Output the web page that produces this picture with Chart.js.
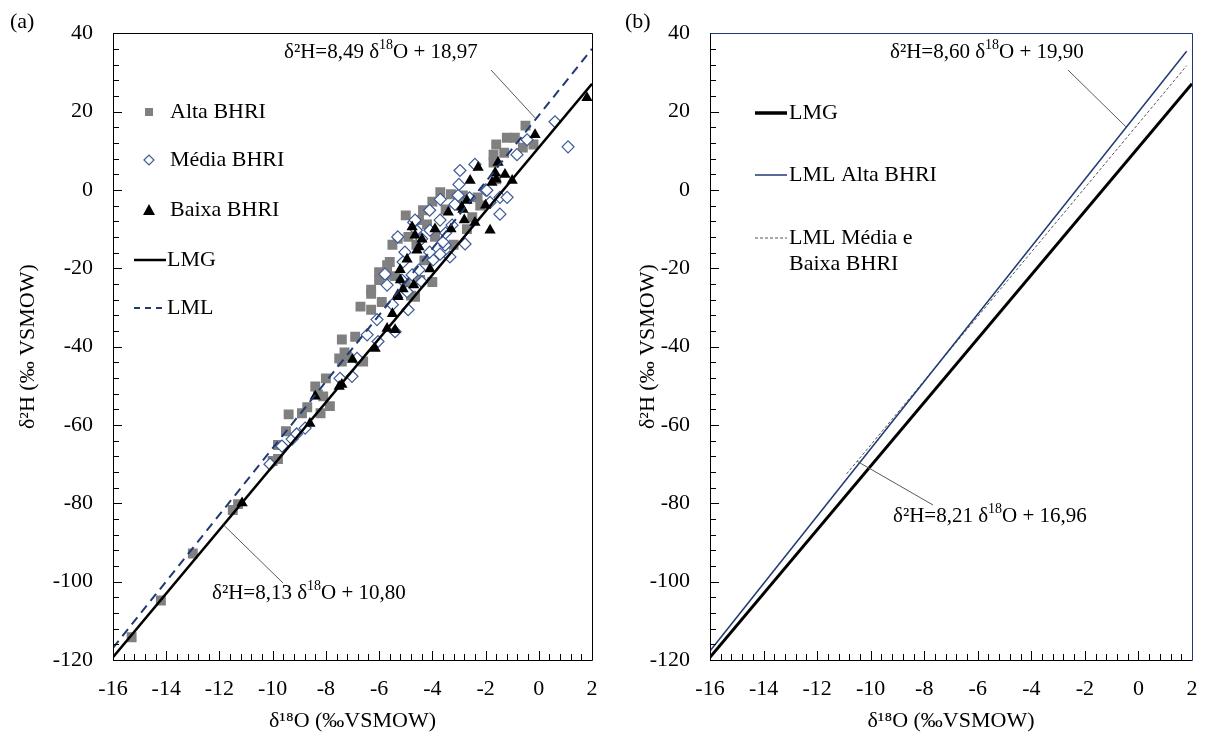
<!DOCTYPE html>
<html>
<head>
<meta charset="utf-8">
<script src="https://cdn.jsdelivr.net/npm/chart.js@4.4.0/dist/chart.umd.min.js"></script>
<style>
  html, body { margin: 0; padding: 0; background: #fff; }
  #wrap { position: relative; width: 1214px; height: 736px; }
  .panel { position: absolute; top: 0; width: 607px; height: 736px; }
</style>
</head>
<body>
<div id="wrap">
  <div class="panel" style="left:0"><canvas id="chartA" width="607" height="736"></canvas></div>
  <div class="panel" style="left:607px"><canvas id="chartB" width="607" height="736"></canvas></div>
</div>
<script>
// axis ticks
const xTicks = [-16, -14, -12, -10, -8, -6, -4, -2, 0, 2];
const yTicks = [-120, -100, -80, -60, -40, -20, 0, 20, 40];

// (a) samples, [δ18O, δ2H]
const altaBHRI = [
  [-15.3, -114.2], [-14.2, -104.8], [-13.0, -92.8], [-11.5, -81.7], [-11.3, -80.2],
  [-10.0, -69.2], [-9.8, -65.1], [-9.8, -68.7], [-9.5, -61.6], [-9.4, -57.3],
  [-8.9, -57.0], [-8.7, -55.5], [-8.2, -57.0], [-7.85, -55.2], [-8.4, -50.2],
  [-8.3, -52.2], [-8.1, -52.7], [-8.0, -48.1], [-7.5, -43.0], [-7.4, -43.8],
  [-7.2, -42.5], [-6.6, -43.8], [-7.3, -41.5], [-7.4, -38.2], [-6.9, -37.5],
  [-6.7, -29.8], [-6.3, -30.6], [-6.3, -26.5], [-5.9, -28.6], [-6.3, -25.5],
  [-6.0, -23.0], [-5.7, -21.7], [-5.7, -19.2], [-5.6, -18.4], [-5.4, -22.0],
  [-5.0, -24.0], [-4.8, -27.0], [-4.65, -27.3], [-4.46, -23.0], [-6.0, -21.0],
  [-5.5, -14.0], [-5.3, -12.5], [-4.9, -12.0], [-4.6, -14.0], [-4.5, -7.7],
  [-4.2, -8.8], [-4.35, -5.2], [-5.0, -6.5], [-4.0, -3.0], [-3.7, -0.6],
  [-3.3, -1.1], [-3.5, -5.0], [-3.0, -3.0], [-2.85, -1.4], [-3.9, -12.0],
  [-3.2, -14.0], [-4.3, -18.0], [-4.0, -23.5], [-2.7, -10.0], [-2.5, -7.0],
  [-2.3, -1.9], [-2.2, -4.0], [-1.6, 2.7], [-1.7, 7.0], [-1.7, 9.0],
  [-1.3, 9.5], [-1.6, 11.6], [-1.2, 13.3], [-0.9, 13.3], [-0.6, 10.8],
  [-0.5, 16.4], [-0.2, 11.6]
];
const mediaBHRI = [
  [-10.1, -70.0], [-9.65, -65.4], [-9.27, -63.6], [-9.1, -62.3], [-8.78, -60.8],
  [-7.47, -48.1], [-7.02, -47.6], [-6.83, -43.0], [-6.45, -37.0], [-6.04, -38.7],
  [-6.08, -33.1], [-5.4, -36.2], [-4.91, -30.6], [-5.5, -29.3], [-4.95, -26.0],
  [-5.14, -23.0], [-5.7, -24.3], [-5.78, -21.5], [-4.76, -21.7], [-4.39, -23.5],
  [-5.03, -15.9], [-5.1, -18.4], [-4.5, -20.4], [-3.97, -17.9], [-3.71, -16.4],
  [-3.34, -17.1], [-2.77, -13.8], [-4.1, -15.9], [-3.52, -14.1], [-3.6, -13.3],
  [-4.6, -10.3], [-4.09, -10.3], [-4.7, -8.3], [-4.65, -7.7], [-3.71, -7.7],
  [-3.26, -9.0], [-3.5, -11.0], [-4.4, -12.5], [-5.3, -12.0], [-3.15, -3.7],
  [-4.1, -5.2], [-3.7, -2.4], [-3.03, -1.4], [-3.0, 1.4], [-2.96, 4.95],
  [-2.4, 6.5], [-2.6, -2.0], [-2.0, 0.0], [-1.95, -0.1], [-1.46, -1.9],
  [-1.19, -1.9], [-1.83, -3.2], [-1.46, -6.2], [-0.82, 9.0], [-0.44, 12.8],
  [0.61, 17.4], [1.1, 11.0]
];
const baixaBHRI = [
  [-11.15, -79.9], [-8.6, -59.6], [-8.4, -52.7], [-7.5, -50.2], [-7.4, -49.7],
  [-7.0, -43.3], [-6.15, -40.5], [-5.7, -35.4], [-5.4, -35.7], [-5.5, -31.6],
  [-5.3, -26.8], [-5.29, -27.3], [-5.1, -25.3], [-5.2, -23.0], [-4.7, -24.3],
  [-5.21, -20.4], [-4.95, -17.7], [-4.09, -20.2], [-4.58, -15.4], [-4.5, -14.6],
  [-4.39, -12.6], [-4.65, -11.6], [-4.76, -9.5], [-3.9, -10.0], [-3.3, -10.0],
  [-3.4, -5.7], [-2.9, -4.4], [-2.8, -7.7], [-2.4, -8.3], [-2.85, -5.0],
  [-2.7, -2.7], [-2.0, -3.9], [-2.58, 2.4], [-2.28, 5.7], [-1.6, 2.7],
  [-1.0, 2.4], [-1.64, 4.4], [-1.27, 3.9], [-1.76, 1.9], [-1.53, 7.0],
  [-1.83, -10.3], [-0.14, 14.1], [1.81, 23.5]
];

// fitted lines, end points
const lmgLine = [[-16, -119.3], [2, 27.1]];
const lmlLine = [[-16, -116.9], [2, 36.0]];
const lmlAltaLine = [[-16, -117.7], [1.8, 35.4]];
const lmlMediaBaixaLine = [[-10.9, -72.5], [1.8, 31.7]];

const FONT = '"Liberation Serif", "Times New Roman", serif';
const NAVY = '#1f3a73';
const toXY = arr => arr.map(p => ({ x: p[0], y: p[1] }));

// inward tick marks + frame
const frameTicks = {
  id: 'frameTicks',
  afterDraw(chart, args, o) {
    const { ctx, chartArea: a, scales: { x, y } } = chart;
    ctx.save();
    ctx.lineWidth = 1;
    ctx.strokeStyle = '#000';
    ctx.beginPath();
    const nx = Math.round((x.max - x.min) / 0.4);
    for (let i = 0; i <= nx; i++) {
      const px = Math.round(x.getPixelForValue(x.min + i * 0.4)) + 0.5;
      ctx.moveTo(px, a.bottom);
      ctx.lineTo(px, a.bottom - (i % 5 === 0 ? 9 : 6));
    }
    const ny = Math.round((y.max - y.min) / 4);
    for (let i = 0; i <= ny; i++) {
      const py = Math.round(y.getPixelForValue(y.min + i * 4)) + 0.5;
      ctx.moveTo(a.left, py);
      ctx.lineTo(a.left + (i % 5 === 0 ? 9 : 6), py);
    }
    ctx.stroke();
    const L = Math.round(a.left) + 0.5, R = Math.round(a.right) + 0.5;
    const T = Math.round(a.top) + 0.5, B = Math.round(a.bottom) + 0.5;
    ctx.beginPath();
    ctx.strokeStyle = '#000';
    ctx.moveTo(L, T); ctx.lineTo(L, B); ctx.lineTo(R, B);
    ctx.stroke();
    ctx.beginPath();
    ctx.strokeStyle = o.frameColor || '#000';
    ctx.moveTo(L, T); ctx.lineTo(R, T); ctx.lineTo(R, B);
    ctx.stroke();
    ctx.restore();
  }
};

function richText(ctx, x, y, parts, size) {
  let cx = x;
  parts.forEach(([t, sup]) => {
    ctx.font = (sup ? Math.round(size * 0.65) : size) + 'px ' + FONT;
    ctx.fillText(t, cx, sup ? y - size * 0.33 : y);
    cx += ctx.measureText(t).width;
  });
}

// panel letter, equations with leader lines, legend
const notes = {
  id: 'notes',
  afterDraw(chart, args, o) {
    const { ctx, scales: { x, y } } = chart;
    ctx.save();
    ctx.fillStyle = '#000';
    ctx.textBaseline = 'middle';
    ctx.textAlign = 'left';
    ctx.font = '22px ' + FONT;
    ctx.fillText(o.letter[0], o.letter[1], o.letter[2]);
    (o.equations || []).forEach(e => {
      richText(ctx, e.at[0], e.at[1], e.parts, 21);
      ctx.beginPath();
      ctx.strokeStyle = '#595959';
      ctx.lineWidth = 1;
      ctx.moveTo(e.from[0], e.from[1]);
      ctx.lineTo(x.getPixelForValue(e.to[0]), y.getPixelForValue(e.to[1]));
      ctx.stroke();
    });
    (o.legend || []).forEach(it => {
      const mx = it.mx, my = it.y;
      ctx.setLineDash([]);
      ctx.beginPath();
      if (it.kind === 'square') {
        ctx.fillStyle = '#808080';
        ctx.fillRect(mx - 4, my - 4, 8, 8);
      } else if (it.kind === 'diamond') {
        ctx.strokeStyle = '#3d5a98';
        ctx.lineWidth = 1.2;
        ctx.moveTo(mx - 5, my); ctx.lineTo(mx, my - 5); ctx.lineTo(mx + 5, my); ctx.lineTo(mx, my + 5);
        ctx.closePath(); ctx.stroke();
      } else if (it.kind === 'triangle') {
        ctx.fillStyle = '#000';
        ctx.moveTo(mx, my - 6); ctx.lineTo(mx + 6, my + 5); ctx.lineTo(mx - 6, my + 5);
        ctx.closePath(); ctx.fill();
      } else {
        ctx.strokeStyle = it.color;
        ctx.lineWidth = it.width;
        ctx.setLineDash(it.dash || []);
        ctx.moveTo(it.x0, my); ctx.lineTo(it.x1, my);
        ctx.stroke();
        ctx.setLineDash([]);
      }
      ctx.fillStyle = '#000';
      ctx.font = '22px ' + FONT;
      it.text.forEach((t, i) => ctx.fillText(t, it.tx, my + i * 26));
    });
    ctx.restore();
  }
};

function baseOptions(pad, yTitlePad) {
  const tickFont = { family: FONT, size: 22 };
  return {
    responsive: false,
    animation: false,
    layout: { padding: { top: 30, right: pad.right, left: 0, bottom: 0 } },
    plugins: { legend: { display: false }, tooltip: { enabled: false } },
    scales: {
      x: {
        type: 'linear', min: -16, max: 2,
        afterBuildTicks: s => { s.ticks = xTicks.map(v => ({ value: v })); },
        afterFit: s => { s.height = 76; s.paddingLeft = 0; s.paddingRight = 0; },
        ticks: { font: tickFont, color: '#000', padding: 16, maxRotation: 0, autoSkip: false },
        grid: { display: false, drawTicks: false },
        border: { display: false },
        title: { display: true, text: 'δ¹⁸O (‰VSMOW)', color: '#000',
                 font: { family: FONT, size: 22 }, padding: { top: 0, bottom: 2 } }
      },
      y: {
        type: 'linear', min: -120, max: 40,
        afterBuildTicks: s => { s.ticks = yTicks.map(v => ({ value: v })); },
        afterFit: s => { s.width = pad.left; },
        ticks: { font: tickFont, color: '#000', padding: 20, autoSkip: false },
        grid: { display: false, drawTicks: false },
        border: { display: false },
        title: { display: true, text: 'δ²H (‰ VSMOW)', color: '#000',
                 font: { family: FONT, size: 22 }, padding: { top: yTitlePad, bottom: 0 } }
      }
    }
  };
}

// (a)
const optsA = baseOptions({ left: 113, right: 15 }, 15);
optsA.plugins.frameTicks = { frameColor: '#000' };
optsA.plugins.notes = {
  letter: ['(a)', 10, 22],
  equations: [
    { at: [284, 52], parts: [['δ²H=8,49 δ', 0], ['18', 1], ['O + 18,97', 0]],
      from: [491, 70], to: [-0.1, 18.1] },
    { at: [212, 593], parts: [['δ²H=8,13 δ', 0], ['18', 1], ['O + 10,80', 0]],
      from: [283, 583], to: [-11.85, -85.5] }
  ],
  legend: [
    { kind: 'square', mx: 149, y: 112, tx: 170, text: ['Alta BHRI'] },
    { kind: 'diamond', mx: 149, y: 160, tx: 170, text: ['Média BHRI'] },
    { kind: 'triangle', mx: 149, y: 210, tx: 170, text: ['Baixa BHRI'] },
    { kind: 'line', x0: 134, x1: 166, y: 260, tx: 167, color: '#000', width: 2.5, text: ['LMG'] },
    { kind: 'line', x0: 134, x1: 166, y: 308, tx: 167, color: NAVY, width: 2, dash: [6, 5], text: ['LML'] }
  ]
};

new Chart(document.getElementById('chartA'), {
  type: 'scatter',
  data: {
    datasets: [
      { label: 'LMG', data: toXY(lmgLine), showLine: true, borderColor: '#000', borderWidth: 2.5,
        pointRadius: 0, fill: false },
      { label: 'LML', data: toXY(lmlLine), showLine: true, borderColor: NAVY, borderWidth: 2,
        borderDash: [9, 6], pointRadius: 0, fill: false },
      { label: 'Baixa BHRI', data: toXY(baixaBHRI), pointStyle: 'triangle', pointRadius: 6.5,
        backgroundColor: '#000', borderColor: '#000', borderWidth: 0 },
      { label: 'Média BHRI', data: toXY(mediaBHRI), pointStyle: 'rectRot', pointRadius: 6,
        backgroundColor: '#fff', borderColor: '#3d5a98', borderWidth: 1.2 },
      { label: 'Alta BHRI', data: toXY(altaBHRI), pointStyle: 'rect', pointRadius: 7,
        backgroundColor: '#808080', borderColor: '#808080', borderWidth: 0 }
    ]
  },
  options: optsA,
  plugins: [frameTicks, notes]
});

// (b)
const optsB = baseOptions({ left: 103, right: 22 }, 28);
optsB.plugins.frameTicks = { frameColor: NAVY };
optsB.plugins.notes = {
  letter: ['(b)', 18, 22],
  equations: [
    { at: [283, 52], parts: [['δ²H=8,60 δ', 0], ['18', 1], ['O + 19,90', 0]],
      from: [461, 70], to: [-0.45, 16.0] },
    { at: [286, 516], parts: [['δ²H=8,21 δ', 0], ['18', 1], ['O + 16,96', 0]],
      from: [326, 505], to: [-10.5, -69.3] }
  ],
  legend: [
    { kind: 'line', x0: 148, x1: 180, y: 113, tx: 182, color: '#000', width: 3.5, text: ['LMG'] },
    { kind: 'line', x0: 148, x1: 180, y: 175, tx: 182, color: NAVY, width: 1.5, text: ['LML Alta BHRI'] },
    { kind: 'line', x0: 148, x1: 180, y: 238, tx: 182, color: '#555', width: 1, dash: [3, 2],
      text: ['LML Média e', 'Baixa BHRI'] }
  ]
};

new Chart(document.getElementById('chartB'), {
  type: 'scatter',
  data: {
    datasets: [
      { label: 'LML Alta BHRI', data: toXY(lmlAltaLine), showLine: true, borderColor: NAVY,
        borderWidth: 1.5, pointRadius: 0, fill: false },
      { label: 'LML Média e Baixa BHRI', data: toXY(lmlMediaBaixaLine), showLine: true,
        borderColor: '#555', borderWidth: 1, borderDash: [3, 2], pointRadius: 0, fill: false },
      { label: 'LMG', data: toXY(lmgLine), showLine: true, borderColor: '#000', borderWidth: 3,
        pointRadius: 0, fill: false }
    ]
  },
  options: optsB,
  plugins: [frameTicks, notes]
});
</script>
</body>
</html>
